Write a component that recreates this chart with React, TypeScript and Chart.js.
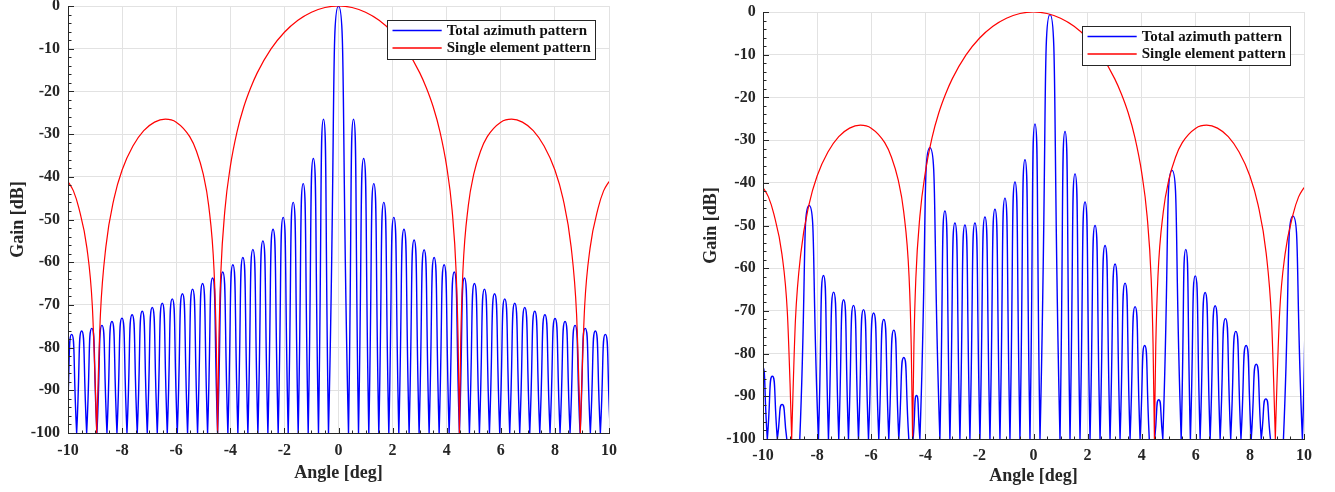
import React, { useEffect, useRef } from "react";
import { Chart, registerables } from "chart.js";

Chart.register(...registerables);

// ---------- tick labels / names ----------
const angleTicks = [-10, -8, -6, -4, -2, 0, 2, 4, 6, 8, 10];
const gainTicks = [-100, -90, -80, -70, -60, -50, -40, -30, -20, -10, 0];
const seriesNames = ["Total azimuth pattern", "Single element pattern"];
const xTitle = "Angle [deg]";
const yTitle = "Gain [dB]";

// ---------- left panel: total pattern (null angles, and lobe peak gain between consecutive nulls) ----------
const leftNullAngles = [
  -10.05, -9.68, -9.31, -8.93, -8.56, -8.19, -7.82, -7.44, -7.07, -6.7, -6.33, -5.96, -5.58, -5.21,
  -4.84, -4.47, -4.09, -3.72, -3.35, -2.98, -2.61, -2.23, -1.86, -1.49, -1.12, -0.74, -0.37,
  0.37, 0.74, 1.12, 1.49, 1.86, 2.23, 2.61, 2.98, 3.35, 3.72, 4.09, 4.47, 4.84, 5.21, 5.58,
  5.96, 6.33, 6.7, 7.07, 7.44, 7.82, 8.19, 8.56, 8.93, 9.31, 9.68, 10.05,
];
const leftLobePeaks = [
  -76.9, -76.1, -75.5, -74.8, -73.9, -73.1, -72.3, -71.5, -70.6, -69.6, -68.6, -67.4, -66.3,
  -65.0, -63.7, -62.3, -60.6, -58.9, -57.0, -55.0, -52.3, -49.5, -46.0, -41.6, -35.7, -26.5,
  0,
  -26.5, -35.7, -41.6, -46.0, -49.5, -52.3, -54.8, -57.1, -58.9, -60.6, -62.3, -63.7, -65.0,
  -66.3, -67.4, -68.6, -69.6, -70.6, -71.5, -72.3, -73.2, -73.9, -74.8, -75.5, -76.1, -76.9,
];

// ---------- right panel: total pattern (null = lobe entirely below -100 dB) ----------
const rightNullAngles = [
  -10.21, -9.84, -9.47, -9.12, -8.64, -7.95, -7.58, -7.2, -6.84, -6.47, -6.1, -5.72, -5.35, -4.98,
  -4.61, -4.45, -4.2, -3.46, -3.09, -2.72, -2.35, -1.98, -1.61, -1.24, -0.87, -0.5, -0.13, 0.24,
  0.98, 1.35, 1.72, 2.09, 2.46, 2.83, 3.2, 3.57, 3.94, 4.28, 4.48, 4.78, 5.46, 5.8, 6.16, 6.53,
  6.9, 7.29, 7.67, 8.05, 8.42, 8.76, 9.24, 9.94, 10.31,
];
const rightLobePeaks: (number | null)[] = [
  -83.0, -85.3, -91.9, null, -45.3, -61.7, -65.6, -67.4, -68.7, -69.7, -70.5, -72.0, -74.5, -80.9,
  null, -89.8, -31.8, -46.6, -49.4, -49.9, -49.4, -48.0, -46.2, -43.6, -39.8, -34.6, -26.2, -0.6,
  -28.0, -37.9, -44.5, -50.0, -54.7, -59.0, -63.5, -69.0, -78.1, null, -90.8, -37.1, -55.6, -61.8,
  -65.7, -68.8, -71.8, -74.8, -78.1, -82.5, -90.6, null, -47.8, -66.0,
];

// ---------- single element pattern (same in both panels) ----------
const elementAngles = [
  -10, -9.8, -9.6, -9.3, -9.1, -9.0, -8.94, -8.88, -8.8, -8.6, -8.3, -8.0, -7.6, -7.2, -6.8, -6.4,
  -6.0, -5.5, -5.25, -5.0, -4.8, -4.6, -4.52, -4.47, -4.42, -4.35, -4.2, -4.0, -3.75, -3.5, -3.25,
  -3.0, -2.5, -2.0, -1.5, -1.0, -0.5, 0, 0.5, 1.0, 1.5, 2.0, 2.5, 3.0, 3.25, 3.5, 3.75, 4.0, 4.2,
  4.35, 4.42, 4.47, 4.52, 4.6, 4.8, 5.0, 5.25, 5.5, 6.0, 6.4, 6.8, 7.2, 7.6, 8.0, 8.3, 8.6, 8.8,
  8.88, 8.94, 9.0, 9.1, 9.3, 9.6, 9.8, 10,
];
const elementGains = [
  -41.1, -43.3, -47.3, -56.7, -70.3, -87.0, -100, -86.8, -72.0, -56.4, -45.1, -38.4, -32.8, -29.2,
  -27.2, -26.5, -27.2, -30.6, -34.0, -39.4, -46.7, -62.0, -78.3, -100, -77.9, -62.4, -47.8, -37.6,
  -29.4, -23.6, -19.2, -15.6, -10.1, -6.15, -3.34, -1.46, -0.36, 0, -0.36, -1.46, -3.34, -6.15,
  -10.1, -15.6, -19.2, -23.6, -29.4, -37.6, -47.8, -62.4, -77.9, -100, -78.3, -62.0, -46.7, -39.4,
  -34.0, -30.6, -27.2, -26.5, -27.2, -29.2, -32.8, -38.4, -45.1, -56.4, -72.0, -86.8, -100, -87.0,
  -70.3, -56.7, -47.3, -43.3, -41.1,
];

type Pt = { x: number; y: number | null };

function lobePoints(nulls: number[], peaks: (number | null)[]): Pt[] {
  const floor = gainTicks[0];
  const pts: Pt[] = [];
  peaks.forEach((g, i) => {
    if (g === null) return;
    const a = nulls[i];
    const b = nulls[i + 1];
    pts.push({ x: a, y: floor }, { x: (a + b) / 2, y: g }, { x: b, y: floor }, { x: b, y: null });
  });
  return pts;
}

function elementPoints(): Pt[] {
  const floor = gainTicks[0];
  const pts: Pt[] = [];
  elementAngles.forEach((a, i) => {
    const g = elementGains[i];
    pts.push({ x: a, y: g });
    if (g <= floor && i > 0 && i < elementAngles.length - 1) {
      pts.push({ x: a, y: null }, { x: a, y: g });
    }
  });
  return pts;
}

const FONT = "'Liberation Serif', 'Times New Roman', serif";
const AXIS_COLOR = "#262626";
const GRID_COLOR = "#e2e2e2";

const axisDecor = {
  id: "axisDecor",
  afterDatasetsDraw(chart: any) {
    const { ctx, chartArea: a, scales } = chart;
    const xs = scales.x;
    const ys = scales.y;
    ctx.save();
    ctx.strokeStyle = AXIS_COLOR;
    ctx.lineWidth = 1;
    const left = Math.floor(a.left) + 0.5;
    const bottom = Math.floor(a.bottom) + 0.5;
    ctx.beginPath();
    // x ticks (inward), minor every 0.5
    for (let k = 0; k <= 40; k++) {
      const v = angleTicks[0] + k * 0.5;
      const major = angleTicks.some((t) => Math.abs(t - v) < 1e-6);
      const px = Math.round(xs.getPixelForValue(v)) + 0.5;
      ctx.moveTo(px, bottom);
      ctx.lineTo(px, bottom - (major ? 5.5 : 3));
    }
    // y ticks (inward), minor every 2
    for (let k = 0; k <= 50; k++) {
      const v = gainTicks[0] + k * 2;
      const major = gainTicks.some((t) => Math.abs(t - v) < 1e-6);
      const py = Math.round(ys.getPixelForValue(v)) + 0.5;
      ctx.moveTo(left, py);
      ctx.lineTo(left + (major ? 5.5 : 3), py);
    }
    ctx.stroke();
    ctx.beginPath();
    ctx.moveTo(left, a.top);
    ctx.lineTo(left, bottom);
    ctx.lineTo(a.right, bottom);
    ctx.stroke();
    ctx.restore();
  },
};

const boxLegend = {
  id: "boxLegend",
  afterDraw(chart: any) {
    const { ctx, chartArea } = chart;
    const w = 208;
    const h = 39;
    const inset = 14;
    const x0 = Math.round(chartArea.right - inset - w);
    const y0 = Math.round(chartArea.top + inset);
    ctx.save();
    ctx.fillStyle = "#ffffff";
    ctx.fillRect(x0, y0, w, h);
    ctx.strokeStyle = AXIS_COLOR;
    ctx.lineWidth = 1;
    ctx.strokeRect(x0 + 0.5, y0 + 0.5, w, h);
    const order = [0, 1];
    order.forEach((i, row) => {
      const ds = chart.data.datasets[i];
      const yy = y0 + 10.5 + row * 17.5;
      ctx.strokeStyle = ds.borderColor;
      ctx.lineWidth = 1.3;
      ctx.beginPath();
      ctx.moveTo(x0 + 5.5, yy);
      ctx.lineTo(x0 + 54.7, yy);
      ctx.stroke();
      ctx.fillStyle = "#111111";
      ctx.font = `bold 15px ${FONT}`;
      ctx.textBaseline = "middle";
      ctx.textAlign = "left";
      ctx.fillText(ds.label, x0 + 59.7, yy + 0.5);
    });
    ctx.restore();
  },
};

type Panel = {
  nulls: number[];
  peaks: (number | null)[];
  yWidth: number;
  xHeight: number;
  pad: { top: number; right: number };
  yTitlePad: number;
  xTitlePad: number;
  yTickPad: number;
  xTickPad: number;
};

function makeConfig(p: Panel): any {
  return {
    type: "line",
    data: {
      datasets: [
        {
          label: seriesNames[0],
          data: lobePoints(p.nulls, p.peaks),
          borderColor: "#0000ff",
          backgroundColor: "#0000ff",
          borderWidth: 1.4,
          pointRadius: 0,
          tension: 0.7,
          spanGaps: false,
          fill: false,
          order: 1,
        },
        {
          label: seriesNames[1],
          data: elementPoints(),
          borderColor: "#ff0000",
          backgroundColor: "#ff0000",
          borderWidth: 1.2,
          pointRadius: 0,
          cubicInterpolationMode: "monotone",
          spanGaps: false,
          fill: false,
          order: 0,
        },
      ],
    },
    options: {
      responsive: false,
      animation: false,
      devicePixelRatio: 1,
      events: [],
      layout: { padding: { left: 0, top: p.pad.top, right: p.pad.right, bottom: 0 } },
      plugins: { legend: { display: false }, tooltip: { enabled: false }, title: { display: false } },
      scales: {
        x: {
          type: "linear",
          min: angleTicks[0],
          max: angleTicks[angleTicks.length - 1],
          afterBuildTicks: (s: any) => {
            s.ticks = angleTicks.map((v) => ({ value: v }));
          },
          afterFit: (s: any) => {
            s.height = p.xHeight;
            s.paddingLeft = 0;
            s.paddingRight = 0;
          },
          grid: { color: GRID_COLOR, lineWidth: 1, drawTicks: false },
          border: { display: true, color: AXIS_COLOR, width: 1 },
          ticks: {
            autoSkip: false,
            maxRotation: 0,
            padding: p.xTickPad,
            color: AXIS_COLOR,
            font: { family: FONT, size: 16, weight: "bold" },
            callback: (v: number) => String(v),
          },
          title: {
            display: true,
            text: xTitle,
            color: AXIS_COLOR,
            font: { family: FONT, size: 18, weight: "bold" },
            padding: { top: 0, bottom: p.xTitlePad },
          },
        },
        y: {
          type: "linear",
          min: gainTicks[0],
          max: gainTicks[gainTicks.length - 1],
          afterBuildTicks: (s: any) => {
            s.ticks = gainTicks.map((v) => ({ value: v }));
          },
          afterFit: (s: any) => {
            s.width = p.yWidth;
            s.paddingTop = 0;
            s.paddingBottom = 0;
          },
          grid: { color: GRID_COLOR, lineWidth: 1, drawTicks: false },
          border: { display: true, color: AXIS_COLOR, width: 1 },
          ticks: {
            autoSkip: false,
            padding: p.yTickPad,
            color: AXIS_COLOR,
            font: { family: FONT, size: 16, weight: "bold" },
            callback: (v: number) => String(v),
          },
          title: {
            display: true,
            text: yTitle,
            color: AXIS_COLOR,
            font: { family: FONT, size: 18, weight: "bold" },
            padding: { top: p.yTitlePad, bottom: 0 },
          },
        },
      },
    },
    plugins: [axisDecor, boxLegend],
  };
}

const leftPanel: Panel = {
  nulls: leftNullAngles,
  peaks: leftLobePeaks,
  yWidth: 68,
  xHeight: 59,
  pad: { top: 6, right: 58 },
  yTitlePad: 7.7,
  xTitlePad: 7.9,
  yTickPad: 8,
  xTickPad: 8,
};

const rightPanel: Panel = {
  nulls: rightNullAngles,
  peaks: rightLobePeaks,
  yWidth: 73,
  xHeight: 53,
  pad: { top: 12, right: 31 },
  yTitlePad: 10.2,
  xTitlePad: 4.9,
  yTickPad: 7.3,
  xTickPad: 7.5,
};

export default function App() {
  const leftRef = useRef<HTMLCanvasElement>(null);
  const rightRef = useRef<HTMLCanvasElement>(null);

  useEffect(() => {
    const c1 = new Chart(leftRef.current as HTMLCanvasElement, makeConfig(leftPanel));
    const c2 = new Chart(rightRef.current as HTMLCanvasElement, makeConfig(rightPanel));
    return () => {
      c1.destroy();
      c2.destroy();
    };
  }, []);

  return (
    <div style={{ position: "fixed", left: 0, top: 0, width: 1335, height: 492, background: "#ffffff" }}>
      <canvas
        ref={leftRef}
        width={667}
        height={492}
        style={{ position: "absolute", left: 0, top: 0, width: 667, height: 492 }}
      />
      <canvas
        ref={rightRef}
        width={645}
        height={492}
        style={{ position: "absolute", left: 690, top: 0, width: 645, height: 492 }}
      />
    </div>
  );
}
